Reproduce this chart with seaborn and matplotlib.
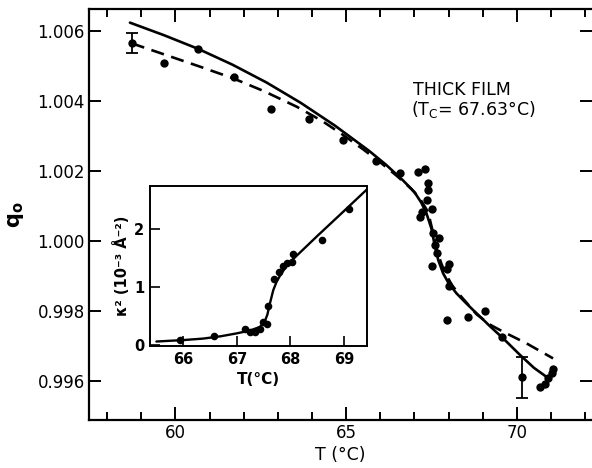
import matplotlib
matplotlib.use("Agg")
import matplotlib.pyplot as plt
from matplotlib.ticker import MultipleLocator, FixedLocator
import pandas as pd
import seaborn as sns

# ---- main panel data ----
T_main = [58.72, 59.66, 60.67, 61.71, 62.80, 63.92, 64.91, 65.87, 66.57, 67.11,
          67.31, 67.40, 67.40, 67.36, 67.21, 67.50, 67.16, 67.55, 67.71, 67.60,
          67.65, 68.02, 67.50, 67.94, 68.02, 67.96, 68.57, 69.06, 69.55, 70.14,
          70.67, 70.82, 70.92, 71.02, 71.06]
q_main = [1.00565, 1.00509, 1.00548, 1.00468, 1.00378, 1.00350, 1.00289, 1.00229, 1.00195, 1.00198,
          1.00205, 1.00167, 1.00146, 1.00117, 1.00084, 1.00093, 1.00069, 1.00022, 1.00010, 0.99989,
          0.99965, 0.99936, 0.99929, 0.99919, 0.99871, 0.99774, 0.99782, 0.99801, 0.99725, 0.99611,
          0.99582, 0.99593, 0.99608, 0.99622, 0.99634]

err_T = [58.72, 70.14]
err_q = [1.00565, 0.99611]
err_dq = [0.00029, 0.00058]

solid_T = [58.67, 59.67, 60.67, 61.67, 62.67, 63.67, 64.67, 65.67, 66.17, 66.67,
           67.00, 67.20, 67.35, 67.50, 67.60, 67.70, 67.84, 68.00, 68.23, 68.50,
           68.72, 69.00, 69.21, 69.60, 70.09, 70.50, 70.97]
solid_q = [1.00624, 1.00588, 1.00549, 1.00504, 1.00453, 1.00395, 1.00330, 1.00258, 1.00218, 1.00173,
           1.00140, 1.00110, 1.00080, 1.00035, 0.99985, 0.99945, 0.99908, 0.99880, 0.99851, 0.99824,
           0.99803, 0.99777, 0.99757, 0.99722, 0.99675, 0.99638, 0.99605]

dash_T = [58.72, 59.74, 60.70, 61.69, 62.60, 63.55, 64.30, 64.96, 65.50, 66.00,
          66.50, 66.90, 67.15, 67.40, 67.54, 67.66, 67.78, 67.89, 68.10, 68.33,
          68.82, 69.20, 69.60, 70.28, 71.06]
dash_q = [1.00565, 1.00531, 1.00499, 1.00465, 1.00428, 1.00384, 1.00343, 1.00300, 1.00262, 1.00225,
          1.00185, 1.00150, 1.00123, 1.00083, 1.00026, 0.99974, 0.99938, 0.99911, 0.99874, 0.99846,
          0.99791, 0.99762, 0.99741, 0.99708, 0.99665]

# ---- inset data ----
inset_T = [65.94, 66.58, 67.15, 67.25, 67.34, 67.43, 67.48, 67.56, 67.58, 67.70,
           67.79, 67.87, 67.94, 68.03, 68.05, 68.59, 69.10]
inset_k = [0.09, 0.16, 0.27, 0.23, 0.23, 0.28, 0.40, 0.36, 0.67, 1.14,
           1.25, 1.36, 1.40, 1.43, 1.57, 1.81, 2.34]

inset_fit_T = [65.50, 66.00, 66.37, 66.70, 67.00, 67.25, 67.43, 67.52, 67.57, 67.62,
               67.68, 67.74, 67.80, 67.90, 68.00, 68.50, 69.00, 69.45]
inset_fit_k = [0.06, 0.085, 0.11, 0.15, 0.20, 0.25, 0.31, 0.40, 0.52, 0.72,
               0.94, 1.08, 1.18, 1.32, 1.43, 1.87, 2.30, 2.69]

main_df = pd.DataFrame({"T": T_main, "q": q_main})
solid_df = pd.DataFrame({"T": solid_T, "q": solid_q})
dash_df = pd.DataFrame({"T": dash_T, "q": dash_q})
inset_df = pd.DataFrame({"T": inset_T, "k": inset_k})
inset_fit_df = pd.DataFrame({"T": inset_fit_T, "k": inset_fit_k})

sns.set_style("ticks")
plt.rcParams["font.family"] = ["DejaVu Sans"]
plt.rcParams["lines.scale_dashes"] = False
plt.rcParams["text.color"] = "black"
plt.rcParams["axes.labelcolor"] = "black"
plt.rcParams["xtick.color"] = "black"
plt.rcParams["ytick.color"] = "black"
plt.rcParams["axes.edgecolor"] = "black"

fig = plt.figure(figsize=(5.92, 4.68), dpi=100)
ax = fig.add_axes([89 / 592, 1 - 420 / 468, 1.0 - 89 / 592, (420 - 9) / 468])

sns.lineplot(data=solid_df, x="T", y="q", ax=ax, sort=False, estimator=None,
             color="black", lw=1.9)
sns.lineplot(data=dash_df, x="T", y="q", ax=ax, sort=False, estimator=None,
             color="black", lw=1.9, linestyle=(0, (9.5, 5.5)))
sns.scatterplot(data=main_df, x="T", y="q", ax=ax, color="black", s=36,
                edgecolor="black", linewidth=0, zorder=5)
ax.errorbar(err_T, err_q, yerr=err_dq, fmt="none", ecolor="black",
            elinewidth=1.3, capsize=4, capthick=1.3, zorder=4)

ax.set_xlim(57.47, 72.2)
ax.set_ylim(0.99489, 1.00663)
ax.xaxis.set_major_locator(FixedLocator([60, 65, 70]))
ax.xaxis.set_minor_locator(MultipleLocator(1))
ax.yaxis.set_major_locator(FixedLocator([0.996, 0.998, 1.000, 1.002, 1.004, 1.006]))
ax.set_yticklabels(["0.996", "0.998", "1.000", "1.002", "1.004", "1.006"])
ax.tick_params(axis="both", which="both", direction="in", top=True, right=True,
               width=1.4, colors="black", labelsize=12)
ax.tick_params(axis="x", which="major", length=9.5, pad=3)
ax.tick_params(axis="x", which="minor", length=5.5)
ax.tick_params(axis="y", which="major", length=8.5, pad=3)
for side in ["left", "bottom", "top"]:
    ax.spines[side].set_linewidth(1.6)
ax.spines["right"].set_visible(False)

ax.set_xlabel("T (°C)", fontsize=12.5, labelpad=3, color="black")
ax.set_ylabel(r"$\mathbf{q_o}$", fontsize=15, labelpad=8, color="black")

ax.text(413, 468 - 90, "THICK FILM", transform=None, fontsize=12.5,
        ha="left", va="center", color="black")
ax.text(411, 468 - 109, r"(T$_\mathrm{C}$= 67.63°C)", transform=None, fontsize=12.5,
        ha="left", va="center", color="black")

# ---- inset ----
axi = fig.add_axes([150 / 592, 1 - 346 / 468, (367 - 150) / 592, (346 - 186) / 468])
axi.set_facecolor("white")
sns.lineplot(data=inset_fit_df, x="T", y="k", ax=axi, sort=False, estimator=None,
             color="black", lw=1.7)
sns.scatterplot(data=inset_df, x="T", y="k", ax=axi, color="black", s=30,
                edgecolor="black", linewidth=0, zorder=5)
axi.set_xlim(65.38, 69.43)
axi.set_ylim(-0.017, 2.73)
axi.xaxis.set_major_locator(FixedLocator([66, 67, 68, 69]))
axi.yaxis.set_major_locator(FixedLocator([0, 1, 2]))
axi.tick_params(axis="both", direction="in", length=7, width=1.2, labelsize=10.5,
                colors="black", pad=4)
for lab in axi.get_xticklabels() + axi.get_yticklabels():
    lab.set_fontweight("bold")
for side in ["left", "bottom", "top", "right"]:
    axi.spines[side].set_linewidth(1.4)
    axi.spines[side].set_visible(True)
axi.set_xlabel("T(°C)", fontsize=11, fontweight="bold", labelpad=4, color="black")
axi.set_ylabel("κ² (10⁻³ Å⁻²)", fontsize=10.5, fontweight="bold", labelpad=3, color="black")

fig.savefig("out.png", dpi=100)
